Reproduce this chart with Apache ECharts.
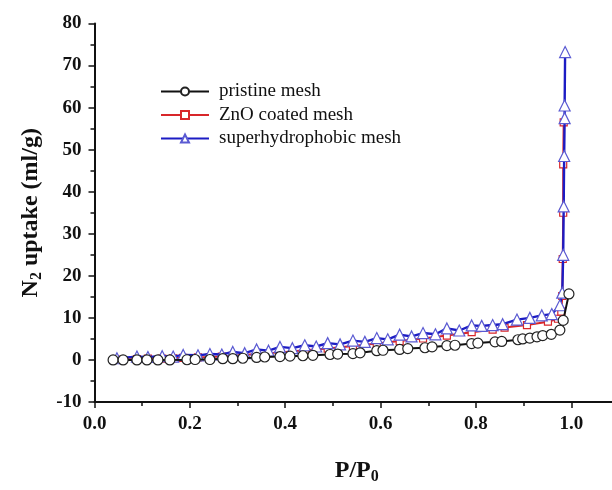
<!DOCTYPE html>
<html><head><meta charset="utf-8">
<script src="https://cdn.jsdelivr.net/npm/echarts@6/dist/echarts.min.js"></script>
<style>html,body{margin:0;padding:0;background:#fff;overflow:hidden}#c{width:619px;height:490px}</style>
</head><body><div id="c"></div>
<script>
const seriesNames = ['pristine mesh', 'ZnO coated mesh', 'superhydrophobic mesh'];

const pristineX = [0.039,0.06,0.089,0.11,0.133,0.158,0.194,0.211,0.242,0.269,0.29,0.311,0.34,0.357,0.389,0.41,0.437,0.458,0.494,0.51,0.542,0.557,0.592,0.605,0.64,0.657,0.693,0.708,0.739,0.756,0.791,0.804,0.84,0.854,0.888,0.898,0.913,0.928,0.94,0.958,0.976,0.983,0.995];
const pristineY = [0,0,0,0,0,0,0.05,0.1,0.1,0.3,0.3,0.4,0.6,0.7,0.8,0.9,1.0,1.1,1.3,1.4,1.5,1.7,2.2,2.3,2.5,2.7,2.9,3.1,3.4,3.5,3.9,4.0,4.3,4.4,4.8,5.0,5.2,5.5,5.8,6.1,7.1,9.4,15.7];

const znoX = [0.047,0.089,0.112,0.142,0.165,0.186,0.217,0.242,0.267,0.29,0.34,0.389,0.441,0.489,0.542,0.592,0.64,0.689,0.739,0.791,0.835,0.86,0.907,0.951,0.972,0.979,0.981,0.982,0.983,0.983,0.984];
const znoY = [0.1,0.2,0.3,0.3,0.4,0.5,0.6,0.7,0.8,1.0,1.4,1.8,2.3,2.7,3.3,3.9,4.5,5.1,5.8,6.6,7.2,7.7,8.3,9.1,9.8,11.5,15.2,24,35,46.5,56.5];

const superX = [0.047,0.089,0.112,0.142,0.165,0.186,0.217,0.242,0.267,0.29,0.315,0.34,0.365,0.389,0.415,0.441,0.465,0.489,0.515,0.542,0.567,0.592,0.615,0.64,0.665,0.689,0.715,0.739,0.765,0.791,0.812,0.835,0.856,0.886,0.913,0.938,0.959,0.976,0.981,0.983,0.984,0.985,0.986,0.986,0.987];
const superY = [0.4,0.8,0.7,0.9,0.8,1.2,1.1,1.4,1.3,1.9,1.6,2.5,2.2,3.1,2.8,3.5,3.2,4.0,3.7,4.6,4.3,5.2,4.9,6.0,5.6,6.4,6.1,7.5,7.0,8.2,8.1,8.3,8.5,9.6,10.0,10.6,10.9,13.0,16.0,25.0,36.5,48.5,57.5,60.5,73.2];

const xTicks = {min: 0, max: 1.1, interval: 0.2};
const yTicks = {min: -10, max: 80, interval: 10};

const zip = (xs, ys) => xs.map((x, i) => [x, ys[i]]);
const serif = '"Liberation Serif", "DejaVu Serif", serif';

const chart = echarts.init(document.getElementById('c'));
chart.setOption({
  animation: false,
  backgroundColor: '#fff',
  grid: {left: 94.5, right: 0, top: 23.5, bottom: 78, containLabel: false},
  legend: {
    data: seriesNames,
    orient: 'vertical',
    left: 155, top: 77,
    itemWidth: 48, itemHeight: 10, itemGap: 4.5,
    textStyle: {fontFamily: serif, fontSize: 19, color: '#111', padding: [0, 0, 0, 5]}
  },
  xAxis: {
    type: 'value', min: xTicks.min, max: xTicks.max, interval: xTicks.interval,
    name: '{b|P/P}{s|0}', nameLocation: 'middle', nameGap: 55,
    nameTextStyle: {rich: {
      b: {fontFamily: serif, fontSize: 24, fontWeight: 'bold', color: '#111'},
      s: {fontFamily: serif, fontSize: 16, fontWeight: 'bold', color: '#111', padding: [12, 0, 0, 0]}
    }},
    axisLine: {show: true, onZero: false, lineStyle: {color: '#111', width: 2}},
    axisTick: {show: true, inside: false, length: 6, lineStyle: {color: '#111', width: 1.5}},
    minorTick: {show: true, splitNumber: 2, length: 4, lineStyle: {color: '#111', width: 1.5}},
    splitLine: {show: false},
    axisLabel: {showMaxLabel: false, margin: 13, fontFamily: serif, fontSize: 19, fontWeight: 'bold', color: '#111',
      formatter: v => v.toFixed(1)}
  },
  yAxis: {
    type: 'value', min: yTicks.min, max: yTicks.max, interval: yTicks.interval,
    name: '{b|N}{s|2}{b| uptake (ml/g)}', nameLocation: 'middle', nameGap: 42, nameRotate: 90,
    nameTextStyle: {rich: {
      b: {fontFamily: serif, fontSize: 24, fontWeight: 'bold', color: '#111'},
      s: {fontFamily: serif, fontSize: 16, fontWeight: 'bold', color: '#111', padding: [12, 0, 0, 0]}
    }},
    axisLine: {show: true, onZero: false, lineStyle: {color: '#111', width: 2}},
    axisTick: {show: true, inside: false, length: 6, lineStyle: {color: '#111', width: 1.5}},
    minorTick: {show: true, splitNumber: 2, length: 4, lineStyle: {color: '#111', width: 1.5}},
    splitLine: {show: false},
    axisLabel: {margin: 13, fontFamily: serif, fontSize: 19, fontWeight: 'bold', color: '#111'}
  },
  series: [
    {
      name: seriesNames[1], type: 'line', data: zip(znoX, znoY),
      symbol: 'rect', symbolSize: 7,
      lineStyle: {color: '#d8262a', width: 2},
      itemStyle: {color: '#fff', borderColor: '#d8262a', borderWidth: 1.2},
      z: 2
    },
    {
      name: seriesNames[2], type: 'line', data: zip(superX, superY),
      symbol: 'triangle', symbolSize: 11,
      lineStyle: {color: '#1c1cc4', width: 2.4},
      itemStyle: {color: '#fff', borderColor: '#5a5ad2', borderWidth: 1.2},
      z: 3
    },
    {
      name: seriesNames[0], type: 'line', data: zip(pristineX, pristineY),
      symbol: 'circle', symbolSize: 10,
      lineStyle: {color: '#111', width: 2},
      itemStyle: {color: '#fff', borderColor: '#222', borderWidth: 1.2},
      z: 4
    }
  ]
});
</script></body></html>
